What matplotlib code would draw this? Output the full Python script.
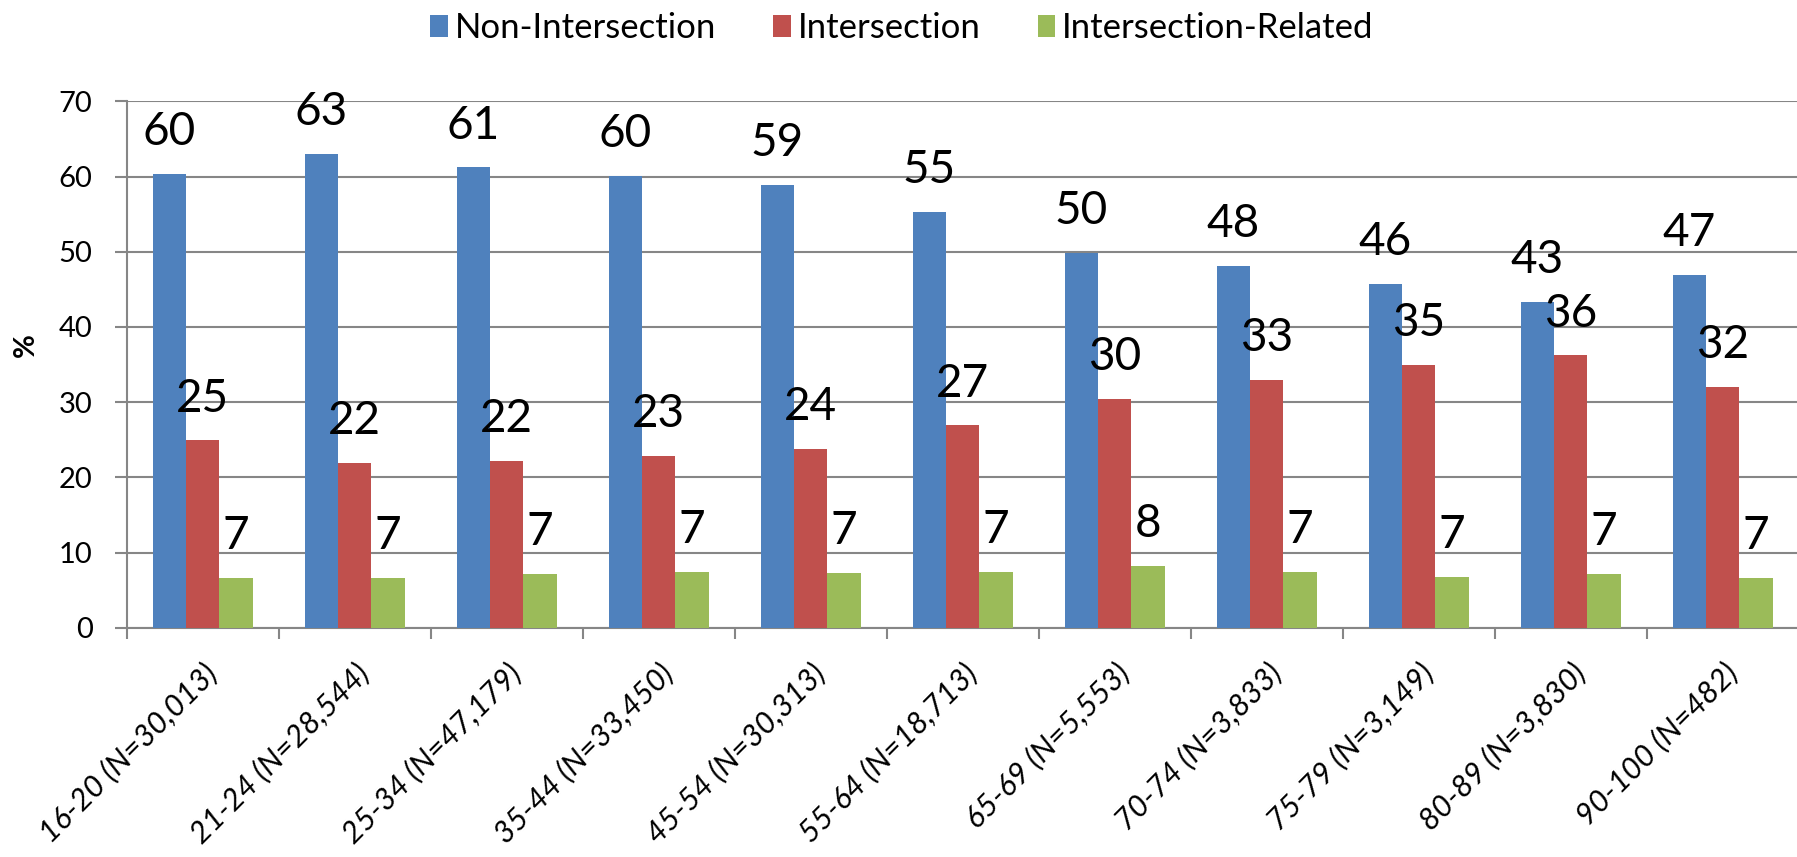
import matplotlib.pyplot as plt
import numpy as np

plt.rcParams['font.family'] = ['Lato', 'DejaVu Sans']

# data
age_groups = ['16-20 (N=30,013)', '21-24 (N=28,544)', '25-34 (N=47,179)',
              '35-44 (N=33,450)', '45-54 (N=30,313)', '55-64 (N=18,713)',
              '65-69 (N=5,553)', '70-74 (N=3,833)', '75-79 (N=3,149)',
              '80-89 (N=3,830)', '90-100 (N=482)']
non_intersection = [60.3, 63.0, 61.2, 60.1, 58.9, 55.3, 49.8, 48.1, 45.7, 43.3, 46.9]
intersection = [24.9, 21.9, 22.2, 22.8, 23.8, 26.9, 30.4, 32.9, 34.9, 36.2, 32.0]
intersection_related = [6.6, 6.6, 7.2, 7.4, 7.3, 7.4, 8.2, 7.4, 6.8, 7.1, 6.6]

series = [('Non-Intersection', non_intersection, '#4F81BD'),
          ('Intersection', intersection, '#C0504D'),
          ('Intersection-Related', intersection_related, '#9BBB59')]

W, H = 1797, 857
fig = plt.figure(figsize=(W / 100, H / 100), dpi=100)
ax = fig.add_axes([126.7 / W, 229.3 / H, 1672 / W, 526.4 / H])

grid_col = '#868686'
x = np.arange(len(age_groups))
bw = 0.219
for i, (name, vals, col) in enumerate(series):
    bars = ax.bar(x + (i - 1) * bw, vals, bw, color=col, label=name, zorder=3)
    ax.bar_label(bars, fmt='%.0f', padding=15, fontsize=33, zorder=4)

ax.set_xlim(-0.5, len(age_groups) - 0.5)
ax.set_ylim(0, 70)
ax.set_yticks(range(0, 71, 10))
ax.grid(axis='y', color=grid_col, linewidth=1.5, zorder=0)

# category boundary ticks, labels at the centres
ax.set_xticks(np.arange(-0.5, len(age_groups), 1))
ax.set_xticklabels([])
ax.set_xticks(x, minor=True)
ax.set_xticklabels(age_groups, minor=True, rotation=45, ha='right', va='top',
                   rotation_mode='anchor', fontsize=22, style='italic')
ax.tick_params(axis='x', which='major', length=8, width=1.5, color=grid_col)
ax.tick_params(axis='x', which='minor', length=0, pad=22)
ax.tick_params(axis='y', length=8.6, width=1.5, color=grid_col, labelsize=21, pad=16)

for s in ['top', 'right']:
    ax.spines[s].set_visible(False)
for s in ['left', 'bottom']:
    ax.spines[s].set_color(grid_col)
    ax.spines[s].set_linewidth(1.5)

fig.text(26 / W, 1 - 345 / H, '%', rotation=90, ha='center', va='center',
         fontsize=21, fontweight='bold')

fig.legend(loc='center', bbox_to_anchor=(0.502, 1 - 28 / H), ncol=3, frameon=False,
           fontsize=25, handlelength=0.5, handleheight=0.6, handletextpad=0.2,
           columnspacing=1.65)

fig.savefig('out.png', dpi=100)
